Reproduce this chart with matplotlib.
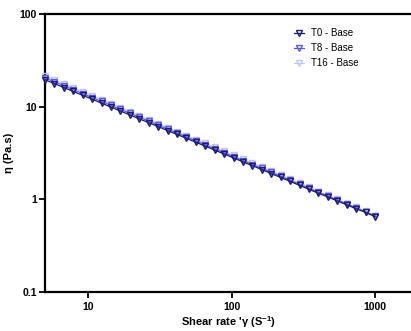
import matplotlib
matplotlib.use("Agg")
import matplotlib.pyplot as plt
from matplotlib.ticker import FixedLocator, NullLocator

plt.rcParams['font.family'] = ['Liberation Sans', 'DejaVu Sans']
plt.rcParams['mathtext.fontset'] = 'custom'
plt.rcParams['mathtext.bf'] = 'Liberation Sans:bold'
plt.rcParams['mathtext.rm'] = 'Liberation Sans'
plt.rcParams['mathtext.default'] = 'bf'

# shear rate (1/s)
shear_rate = [5, 5.82, 6.77, 7.87, 9.16, 10.66, 12.4, 14.43, 16.78, 19.53,
              22.72, 26.43, 30.75, 35.77, 41.62, 48.42, 56.33, 65.53, 76.24, 88.7,
              103.2, 120.1, 139.7, 162.5, 189.0, 219.9, 255.9, 297.7, 346.3, 402.9,
              468.7, 545.3, 634.4, 738.1, 858.7, 1000]

# viscosity (Pa.s)
eta_t0 = [19.5, 17.7, 16.05, 14.57, 13.22, 12.0, 10.88, 9.88, 8.96, 8.13,
          7.38, 6.70, 6.08, 5.51, 5.00, 4.54, 4.12, 3.74, 3.39, 3.08,
          2.79, 2.53, 2.30, 2.09, 1.89, 1.72, 1.56, 1.41, 1.28, 1.16,
          1.06, 0.96, 0.87, 0.79, 0.72, 0.65]
eta_t8 = [20.4, 18.5, 16.8, 15.2, 13.8, 12.5, 11.35, 10.3, 9.33, 8.46,
          7.67, 6.96, 6.31, 5.72, 5.18, 4.70, 4.26, 3.87, 3.50, 3.18,
          2.88, 2.61, 2.37, 2.15, 1.95, 1.77, 1.60, 1.45, 1.31, 1.19,
          1.08, 0.98, 0.89, 0.805, 0.73, 0.66]
eta_t16 = [21.3, 19.3, 17.5, 15.9, 14.4, 13.05, 11.8, 10.7, 9.7, 8.8,
           7.97, 7.22, 6.55, 5.93, 5.37, 4.87, 4.41, 4.0, 3.62, 3.28,
           2.97, 2.69, 2.44, 2.21, 2.0, 1.81, 1.64, 1.49, 1.34, 1.21,
           1.10, 0.995, 0.90, 0.815, 0.74, 0.665]

series = [("T0 - Base", eta_t0, "#1a1a80"),
          ("T8 - Base", eta_t8, "#5a5aee"),
          ("T16 - Base", eta_t16, "#c4c4fa")]

fig = plt.figure(figsize=(4.11, 3.31), dpi=100)
ax = fig.add_axes([0.1095, 0.118, 0.8905, 0.84])

for label, vals, col in series[::-1]:
    ax.plot(shear_rate, vals, color=col, lw=0.9, marker='v', ms=5,
            mfc='none', mec=col, mew=1.0, label=label, clip_on=False, zorder=3)

ax.set_xscale('log')
ax.set_yscale('log')
ax.set_xlim(5, 1780)
ax.set_ylim(0.1, 100)

ax.xaxis.set_major_locator(FixedLocator([10, 100, 1000]))
ax.yaxis.set_major_locator(FixedLocator([0.1, 1, 10, 100]))
ax.xaxis.set_minor_locator(NullLocator())
ax.yaxis.set_minor_locator(NullLocator())
ax.set_xticklabels(['10', '100', '1000'], fontweight='bold', fontsize=7.5)
ax.set_yticklabels(['0.1', '1', '10', '100'], fontweight='bold', fontsize=7.5)
ax.tick_params(axis='x', direction='out', length=4, width=1.3, pad=3)
ax.tick_params(axis='y', direction='out', length=4, width=1.3, pad=2)

for s in ['left', 'bottom', 'top']:
    ax.spines[s].set_linewidth(1.6)
ax.spines['right'].set_visible(False)

ax.set_xlabel("Shear rate 'γ (S$^{-1}$)", fontweight='bold', fontsize=8, labelpad=2)
ax.set_ylabel("η (Pa.s)", fontweight='bold', fontsize=8, labelpad=4)

h, l = ax.get_legend_handles_labels()
ax.legend(h[::-1], l[::-1], loc='upper right', bbox_to_anchor=(0.88, 0.98),
          frameon=False, fontsize=7, handlelength=1.0, labelspacing=0.5,
          handletextpad=0.7)

fig.savefig("out.png", dpi=100)
